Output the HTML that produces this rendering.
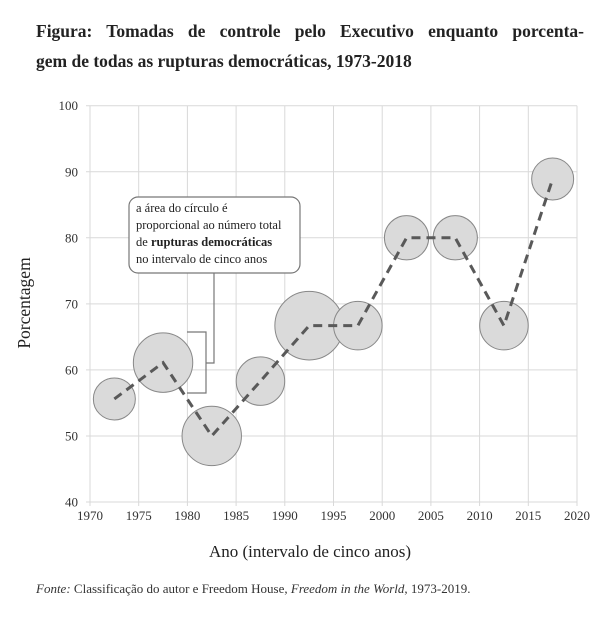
<!DOCTYPE html>
<html><head><meta charset="utf-8">
<style>
body{margin:0;background:#fff;width:611px;height:617px;overflow:hidden;font-family:"Liberation Serif",serif;}
#title{position:absolute;left:36px;top:16px;width:548px;font-weight:bold;font-size:17.5px;line-height:30px;color:#222;}
#title .l1{text-align:justify;text-align-last:justify;}
#src{position:absolute;left:36px;top:581px;font-size:13px;color:#333;}
</style></head><body>
<div id="title"><div class="l1">Figura: Tomadas de controle pelo Executivo enquanto porcenta-</div><div>gem de todas as rupturas democráticas, 1973-2018</div></div>
<svg id="chart" width="611" height="617" style="position:absolute;left:0;top:0"></svg>
<div id="src"><i>Fonte:</i> Classificação do autor e Freedom House, <i>Freedom in the World</i>, 1973-2019.</div>
<script>
const years=[1972.5,1977.5,1982.5,1987.5,1992.5,1997.5,2002.5,2007.5,2012.5,2017.5];
const pct=[55.6,61.1,50,58.3,66.7,66.7,80,80,66.7,88.9];
const counts=[9,18,18,12,24,12,10,10,12,9];
const xTicks=[1970,1975,1980,1985,1990,1995,2000,2005,2010,2015,2020];
const yTicks=[40,50,60,70,80,90,100];
const NS="http://www.w3.org/2000/svg";
const svg=document.getElementById('chart');
const X0=90,X1=577,Y0=502,Y1=105.7;
const xs=v=>X0+(v-1970)/50*(X1-X0);
const ys=v=>Y0-(v-40)/60*(Y0-Y1);
const rs=n=>7*Math.sqrt(n);
function mk(t,a,p){const e=document.createElementNS(NS,t);for(const k in a)e.setAttribute(k,a[k]);(p||svg).appendChild(e);return e;}
const grid=mk('g',{});


xTicks.forEach(t=>{mk('line',{x1:xs(t),x2:xs(t),y1:Y1,y2:Y0+4,stroke:'#d9d9d9','stroke-width':1},grid);
 const l=mk('text',{x:xs(t),y:Y0+18,'text-anchor':'middle','font-size':13,fill:'#333','font-family':'Liberation Serif'});
 l.textContent=t;
 
 });
yTicks.forEach(t=>{mk('line',{x1:X0-4,x2:X1,y1:ys(t),y2:ys(t),stroke:'#d9d9d9','stroke-width':1},grid);
 const l=mk('text',{x:X0-12,y:ys(t)+4.5,'text-anchor':'end','font-size':13,fill:'#333','font-family':'Liberation Serif'});
 l.textContent=t;
 
 });
years.forEach((y,i)=>{const c=mk('circle',{cx:xs(y),cy:ys(pct[i]),r:rs(counts[i]),fill:'#dadada',stroke:'#888','stroke-width':1});
 
 });
const pl=mk('polyline',{points:years.map((y,i)=>xs(y)+','+ys(pct[i])).join(' '),fill:'none',stroke:'#595959','stroke-width':3,'stroke-dasharray':'9,6'});


const br=mk('path',{d:'M187,332 H206 V393 H187 M206,363 H214 V273',fill:'none',stroke:'#777','stroke-width':1.2});


const box=mk('rect',{x:129,y:197,width:171,height:76,rx:9,fill:'#fff',stroke:'#777','stroke-width':1.2});


const ann=mk('text',{'font-size':12.5,fill:'#222','font-family':'Liberation Serif'});


ann.innerHTML='<tspan x="136" y="212">a área do círculo é</tspan><tspan x="136" y="229">proporcional ao número total</tspan><tspan x="136" y="246">de <tspan font-weight="bold">rupturas democráticas</tspan></tspan><tspan x="136" y="263">no intervalo de cinco anos</tspan>';
const yt=mk('text',{x:0,y:0,transform:'translate(30,303) rotate(-90)','text-anchor':'middle','font-size':17.5,fill:'#222','font-family':'Liberation Serif'});
yt.textContent='Porcentagem';


const xt=mk('text',{x:310,y:557,'text-anchor':'middle','font-size':17,fill:'#222','font-family':'Liberation Serif'});
xt.textContent='Ano (intervalo de cinco anos)';


</script>
</body></html>
